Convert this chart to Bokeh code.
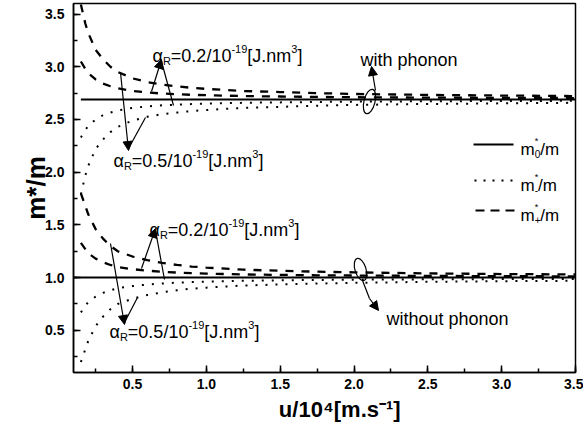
import math
from bokeh.plotting import figure
from bokeh.models import (Range1d, SingleIntervalTicker, PrintfTickFormatter, Label, Arrow, NormalHead)
from bokeh.embed import file_html
from bokeh.resources import INLINE

# ---------------- data ----------------
u = [0.15, 0.18, 0.2, 0.25, 0.3, 0.35, 0.4, 0.5, 0.6, 0.7, 0.8, 0.9, 1.0,
     1.25, 1.5, 1.75, 2.0, 2.5, 3.0, 3.5]

# with phonon
m0_wp_u = [0.15, 3.5]
m0_wp = [2.69, 2.69]
mplus_wp_a05 = [3.59, 3.41, 3.32, 3.16, 3.07, 3.00, 2.95, 2.89, 2.855, 2.83, 2.815, 2.80, 2.79,
                2.77, 2.76, 2.75, 2.742, 2.733, 2.727, 2.722]
mminus_wp_a05 = [1.79, 1.97, 2.06, 2.22, 2.31, 2.38, 2.43, 2.49, 2.525, 2.55, 2.565, 2.58, 2.59,
                 2.61, 2.62, 2.63, 2.638, 2.647, 2.653, 2.658]
mplus_wp_a02 = [3.05, 2.98, 2.94, 2.88, 2.84, 2.815, 2.795, 2.77, 2.756, 2.746, 2.74, 2.734, 2.73,
                2.722, 2.718, 2.714, 2.711, 2.707, 2.705, 2.703]
mminus_wp_a02 = [2.33, 2.40, 2.44, 2.50, 2.54, 2.565, 2.585, 2.61, 2.624, 2.634, 2.64, 2.646, 2.65,
                 2.658, 2.662, 2.666, 2.669, 2.673, 2.675, 2.677]

# without phonon
m0_np_u = [0.1, 3.5]
m0_np = [1.0, 1.0]
mplus_np_a05 = [1.80, 1.68, 1.60, 1.46, 1.37, 1.30, 1.25, 1.20, 1.165, 1.14, 1.12, 1.105, 1.095,
                1.075, 1.065, 1.056, 1.05, 1.04, 1.034, 1.03]
mminus_np_a05 = [0.20, 0.32, 0.40, 0.54, 0.63, 0.70, 0.75, 0.80, 0.835, 0.86, 0.88, 0.895, 0.905,
                 0.925, 0.935, 0.944, 0.95, 0.96, 0.966, 0.97]
mplus_np_a02 = [1.33, 1.27, 1.23, 1.18, 1.145, 1.12, 1.10, 1.08, 1.066, 1.056, 1.048, 1.042, 1.038,
                1.03, 1.026, 1.022, 1.02, 1.016, 1.014, 1.012]
mminus_np_a02 = [0.67, 0.73, 0.77, 0.82, 0.855, 0.88, 0.90, 0.92, 0.934, 0.944, 0.952, 0.958, 0.962,
                 0.97, 0.974, 0.978, 0.98, 0.984, 0.986, 0.988]

X_MIN, X_MAX = 0.1, 3.5
Y_MIN, Y_MAX = 0.1, 3.6
X_TITLE = "\u00a0\u00a0\u00a0\u00a0\u00a0u/10\u2074[m.s\u207b\u00b9]"
Y_TITLE = "m*/m"

# ---------------- layout ----------------
FL, FT, FW, FH = 73, 3, 502, 369   # frame in picture pixels
FONT = "Liberation Sans"

def px2x(px):
    return X_MIN + (px - FL) * (X_MAX - X_MIN) / FW

def py2y(py):
    return Y_MIN + (FT + FH - py) * (Y_MAX - Y_MIN) / FH

p = figure(frame_width=FW, frame_height=FH, output_backend="svg", toolbar_location=None,
           x_range=Range1d(X_MIN, X_MAX), y_range=Range1d(Y_MIN, Y_MAX),
           min_border_left=FL, min_border_right=8, min_border_top=FT, min_border_bottom=58)
p.background_fill_color = "white"
p.border_fill_color = "white"
p.outline_line_color = "black"
p.outline_line_width = 1.5
p.xgrid.visible = False
p.ygrid.visible = False

for ax in (p.xaxis[0], p.yaxis[0]):
    ax.ticker = SingleIntervalTicker(interval=0.5, num_minor_ticks=2)
    ax.formatter = PrintfTickFormatter(format="%.1f")
    ax.axis_line_color = "black"
    ax.axis_line_width = 1.5
    ax.major_tick_in = 7
    ax.major_tick_out = 0
    ax.minor_tick_in = 4
    ax.minor_tick_out = 0
    ax.major_tick_line_width = 1.5
    ax.minor_tick_line_width = 1.5
    ax.major_tick_line_color = "black"
    ax.minor_tick_line_color = "black"
    ax.major_label_text_font = FONT
    ax.major_label_text_font_style = "bold"
    ax.major_label_text_font_size = "14px"
    ax.major_label_text_color = "black"
    ax.axis_label_text_font = FONT
    ax.axis_label_text_font_style = "bold"
    ax.axis_label_text_color = "black"
p.xaxis.major_label_standoff = 6
p.yaxis.major_label_standoff = 9
p.xaxis.axis_label = X_TITLE
p.xaxis.axis_label_text_font_size = "22px"
p.xaxis.axis_label_standoff = 5
p.yaxis.axis_label = Y_TITLE
p.yaxis.axis_label_text_font_size = "26px"
p.yaxis.axis_label_standoff = -9

# ---------------- curves ----------------
p.line(m0_wp_u, m0_wp, line_color="black", line_width=2)
p.line(m0_np_u, m0_np, line_color="black", line_width=2)
for ys in (mplus_wp_a05, mplus_wp_a02, mplus_np_a05, mplus_np_a02):
    p.line(u, ys, line_color="black", line_width=2.3, line_dash="8 8")
for ys in (mminus_wp_a05, mminus_wp_a02, mminus_np_a05, mminus_np_a02):
    p.line(u, ys, line_color="black", line_width=2, line_dash="2 8")

# ---------------- rich text helper ----------------
W_N = {'0': 556, '1': 556, '2': 556, '3': 556, '4': 556, '5': 556, '6': 556, '7': 556, '8': 556,
       '9': 556, '.': 278, '/': 278, '=': 584, '[': 278, ']': 278, 'J': 500, 'n': 556, 'm': 833,
       '-': 333, 'R': 722, 'α': 578, '*': 389, ' ': 278}

def tw(text, size):
    return sum(W_N.get(c, 556) for c in text) * size / 1000.0

def rich(parts, x0, base):
    """parts: (text, size, shift_up_px, advance?)"""
    cur = 0.0
    for text, size, shift, adv in parts:
        p.add_layout(Label(x=px2x(x0 + cur), y=py2y(base - shift), text=text, text_font=FONT,
                           text_font_size=f"{size}px", text_color="black",
                           text_align="left", text_baseline="alphabetic"))
        if adv:
            cur += tw(text, size)

def alpha_label(val, x0, base):
    rich([("α", 18, 0, True), ("R", 11, -5, True),
          (f"=0.{val}/10", 18, 0, True), ("-19", 11, 7, True),
          ("[J.nm", 18, 0, True), ("3", 11, 7, True), ("]", 18, 0, True)],
         x0, base)

alpha_label(2, 152, 55)
alpha_label(5, 113, 160)
alpha_label(2, 149, 229)
alpha_label(5, 109, 331)

rich([("with phonon", 18, 0, True)], 360, 59)
rich([("without phonon", 18, 0, True)], 386, 318)

# ---------------- arrows ----------------
def seg(a, b):
    p.line([px2x(a[0]), px2x(b[0])], [py2y(a[1]), py2y(b[1])], line_color="black", line_width=1.2)

def arrow(a, b):
    p.add_layout(Arrow(end=NormalHead(size=9, fill_color="black", line_color="black", line_width=1),
                       x_start=px2x(a[0]), y_start=py2y(a[1]), x_end=px2x(b[0]), y_end=py2y(b[1]),
                       line_color="black", line_width=1.2))

# alpha=0.2 with phonon
arrow((151, 91), (161, 59)); seg((161, 61), (173, 105))
# alpha=0.5 with phonon
arrow((120, 72), (128, 150)); seg((128, 148), (145, 117))
# alpha=0.2 without phonon
arrow((141, 268), (155, 228)); seg((155, 230), (164, 279))
# alpha=0.5 without phonon
arrow((110, 243), (124, 324)); seg((124, 322), (137, 297))

# phonon loops
p.ellipse(x=[px2x(369)], y=[py2y(101)], width=11, height=25, width_units="screen",
          height_units="screen", angle=-0.25, fill_color=None, line_color="black", line_width=1.2)
arrow((375, 90), (371, 66))
p.ellipse(x=[px2x(360)], y=[py2y(269)], width=11, height=23, width_units="screen",
          height_units="screen", angle=0.3, fill_color=None, line_color="black", line_width=1.2)
seg((362, 280), (369, 298))
arrow((369, 298), (378, 310))

# ---------------- legend ----------------
p.line([px2x(473), px2x(513)], [py2y(144)] * 2, line_width=2, line_color="black")
p.line([px2x(474), px2x(515)], [py2y(180)] * 2, line_width=2, line_dash="2 7", line_color="black")
p.line([px2x(475), px2x(515)], [py2y(210)] * 2, line_width=2, line_dash="9 6", line_color="black")
for sub, base in (("0", 149), ("-", 185), ("+", 215)):
    rich([("m", 17, 0, True), ("*", 9, 9, False), (sub, 10, -4, True), ("/m", 17, 0, True)],
         520, base)

open("out.html", "w").write(file_html(p, INLINE))
